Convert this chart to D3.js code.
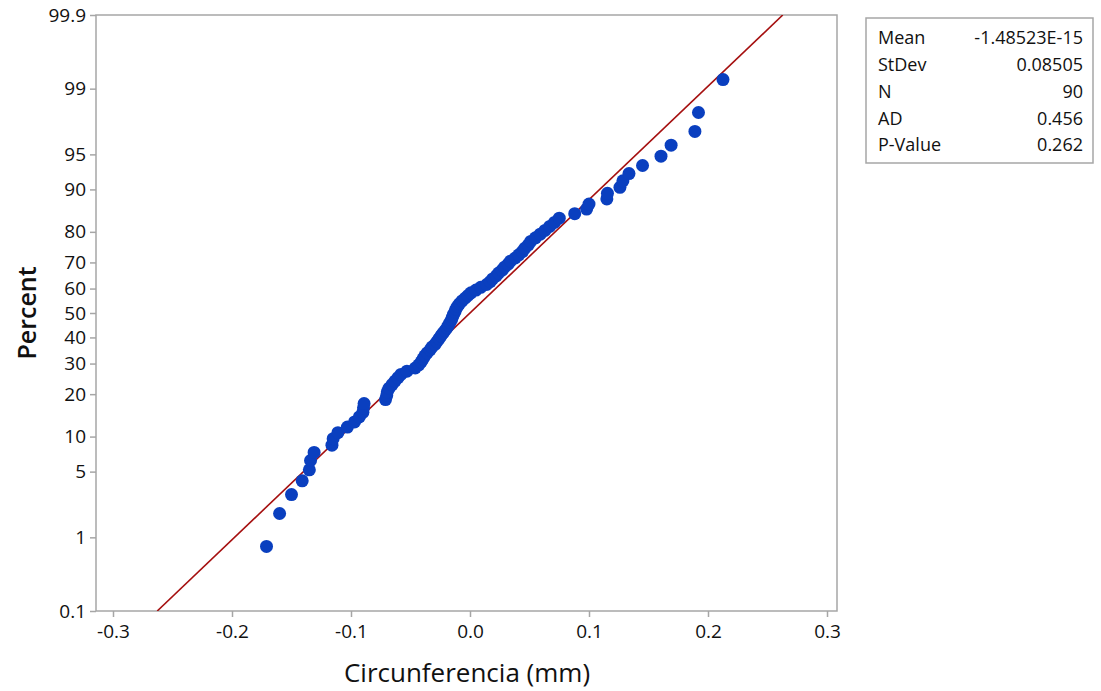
<!DOCTYPE html>
<html>
<head>
<meta charset="utf-8">
<script src="https://cdn.jsdelivr.net/npm/d3@7"></script>
<style>
	body { margin: 0; background: #fff; }
	svg { font-family: "Open Sans", "Noto Sans", sans-serif; }
	svg .tick text { font-size: 19px !important; font-family: "Open Sans", "Noto Sans", sans-serif !important; fill: #111; }
	.axisLabel { fill: #111; }
	.stats text { fill: #111; font-size: 18px; }
</style>
</head>
<body>
<svg id="chart" width="1101" height="691"></svg>
<script>
var circunferencia = [
	-0.171, -0.160, -0.150, -0.141, -0.135, -0.134, -0.131, -0.116, -0.115, -0.111,
	-0.103, -0.097, -0.093, -0.090, -0.0895, -0.089, -0.071, -0.070, -0.0695, -0.068,
	-0.0655, -0.063, -0.0605, -0.058, -0.053, -0.046, -0.043, -0.041, -0.0395, -0.038,
	-0.036, -0.0336, -0.032, -0.0294, -0.0277, -0.026, -0.0244, -0.0227, -0.021, -0.0193,
	-0.018, -0.0168, -0.0155, -0.0147, -0.0139, -0.0126, -0.0118, -0.0105, -0.0088, -0.0067,
	-0.0042, -0.0017, 0.0008, 0.005, 0.009, 0.014, 0.017, 0.019, 0.022, 0.024,
	0.027, 0.029, 0.032, 0.034, 0.038, 0.041, 0.044, 0.046, 0.049, 0.051,
	0.055, 0.059, 0.063, 0.067, 0.071, 0.075, 0.088, 0.098, 0.100, 0.115,
	0.1155, 0.126, 0.1285, 0.1336, 0.145, 0.1605, 0.169, 0.189, 0.192, 0.2126
];

var percentTicks = [0.1, 1, 5, 10, 20, 30, 40, 50, 60, 70, 80, 90, 95, 99, 99.9];
var xTicks = [-0.3, -0.2, -0.1, 0.0, 0.1, 0.2, 0.3];
var xTickLabels = ["-0.3", "-0.2", "-0.1", "0.0", "0.1", "0.2", "0.3"];

var statLabels = ["Mean", "StDev", "N", "AD", "P-Value"];
var statValues = ["-1.48523E-15", "0.08505", "90", "0.456", "0.262"];

var mean = -1.48523e-15,
	stdev = 0.08505;

// inverse normal cdf (Acklam)
function probit(p){
	var a = [-39.69683028665376, 220.9460984245205, -275.9285104469687, 138.3577518672690, -30.66479806614716, 2.506628277459239],
		b = [-54.47609879822406, 161.5858368580409, -155.6989798598866, 66.80131188771972, -13.28068155288572],
		c = [-0.007784894002430293, -0.3223964580411365, -2.400758277161838, -2.549732539343734, 4.374664141464968, 2.938163982698783],
		d = [0.007784695709041462, 0.3224671290700398, 2.445134137142996, 3.754408661907416],
		q, r;
	if (p < 0.02425) {
		q = Math.sqrt(-2 * Math.log(p));
		return (((((c[0]*q+c[1])*q+c[2])*q+c[3])*q+c[4])*q+c[5]) / ((((d[0]*q+d[1])*q+d[2])*q+d[3])*q+1);
	}
	if (p > 1 - 0.02425) {
		q = Math.sqrt(-2 * Math.log(1 - p));
		return -(((((c[0]*q+c[1])*q+c[2])*q+c[3])*q+c[4])*q+c[5]) / ((((d[0]*q+d[1])*q+d[2])*q+d[3])*q+1);
	}
	q = p - 0.5;
	r = q * q;
	return (((((a[0]*r+a[1])*r+a[2])*r+a[3])*r+a[4])*r+a[5])*q / (((((b[0]*r+b[1])*r+b[2])*r+b[3])*r+b[4])*r+1);
}

var plot = { left: 96, right: 837, top: 15, bottom: 611 };

var svg = d3.select('#chart');

var x = d3.scaleLinear()
	.domain([-0.3, 0.3])
	.range([113, 827]);

var y = d3.scaleLinear()
	.domain([probit(0.001), probit(0.999)])
	.range([plot.bottom, plot.top]);

var n = circunferencia.length;
var points = circunferencia.map(function(v, i){
	return { x: v, z: probit((i + 1 - 0.3) / (n + 0.4)) };
});

// frame
svg.append('rect')
	.attr('x', plot.left)
	.attr('y', plot.top)
	.attr('width', plot.right - plot.left)
	.attr('height', plot.bottom - plot.top)
	.attr('fill', 'none')
	.attr('stroke', '#a6a6a6')
	.attr('stroke-width', 1.5);

var xAxis = d3.axisBottom(x)
	.tickValues(xTicks)
	.tickSize(6)
	.tickPadding(8)
	.tickFormat(function(d, i){ return xTickLabels[i]; });

var xg = svg.append('g')
	.attr('transform', 'translate(0,' + plot.bottom + ')')
	.call(xAxis);
xg.select('.domain').remove();
xg.selectAll('.tick line').attr('stroke', '#a6a6a6').attr('stroke-width', 1.5);

var yAxis = d3.axisLeft(y)
	.tickValues(percentTicks.map(function(p){ return probit(p / 100); }))
	.tickSize(6)
	.tickPadding(4)
	.tickFormat(function(d, i){ return percentTicks[i]; });

var yg = svg.append('g')
	.attr('transform', 'translate(' + plot.left + ',0)')
	.call(yAxis);
yg.select('.domain').remove();
yg.selectAll('.tick line').attr('stroke', '#a6a6a6').attr('stroke-width', 1.5);

// fitted normal line
var zLo = probit(0.001), zHi = probit(0.999);
svg.append('clipPath').attr('id', 'plotClip')
	.append('rect')
	.attr('x', plot.left)
	.attr('y', plot.top)
	.attr('width', plot.right - plot.left)
	.attr('height', plot.bottom - plot.top);

svg.append('line')
	.attr('clip-path', 'url(#plotClip)')
	.attr('x1', x(mean + stdev * zLo))
	.attr('y1', y(zLo))
	.attr('x2', x(mean + stdev * zHi))
	.attr('y2', y(zHi))
	.attr('stroke', '#a50f0f')
	.attr('stroke-width', 1.6);

svg.append('g')
	.selectAll('circle')
	.data(points)
	.enter().append('circle')
	.attr('cx', function(d){ return x(d.x); })
	.attr('cy', function(d){ return y(d.z); })
	.attr('r', 6.5)
	.attr('fill', '#0a3fbf');

svg.append('text')
	.attr('class', 'axisLabel')
	.attr('x', 467)
	.attr('y', 682)
	.attr('font-size', 26)
	.attr('text-anchor', 'middle')
	.text('Circunferencia (mm)');

svg.append('text')
	.attr('class', 'axisLabel')
	.attr('transform', 'translate(36,313) rotate(-90)')
	.attr('text-anchor', 'middle')
	.attr('font-size', 25)
	.attr('font-weight', 600)
	.text('Percent');

// stats box
var stats = svg.append('g').attr('class', 'stats');
stats.append('rect')
	.attr('x', 866)
	.attr('y', 18)
	.attr('width', 227)
	.attr('height', 145)
	.attr('fill', 'none')
	.attr('stroke', '#a6a6a6')
	.attr('stroke-width', 1.5);

var rowY = d3.scalePoint()
	.domain(statLabels)
	.range([38, 145]);

stats.selectAll('.lab')
	.data(statLabels)
	.enter().append('text')
	.attr('class', 'lab')
	.attr('x', 878)
	.attr('y', function(d){ return rowY(d); })
	.attr('dy', '0.35em')
	.text(function(d){ return d; });

stats.selectAll('.val')
	.data(statValues)
	.enter().append('text')
	.attr('class', 'val')
	.attr('x', 1083)
	.attr('y', function(d, i){ return rowY(statLabels[i]); })
	.attr('dy', '0.35em')
	.attr('text-anchor', 'end')
	.text(function(d){ return d; });
</script>
</body>
</html>
